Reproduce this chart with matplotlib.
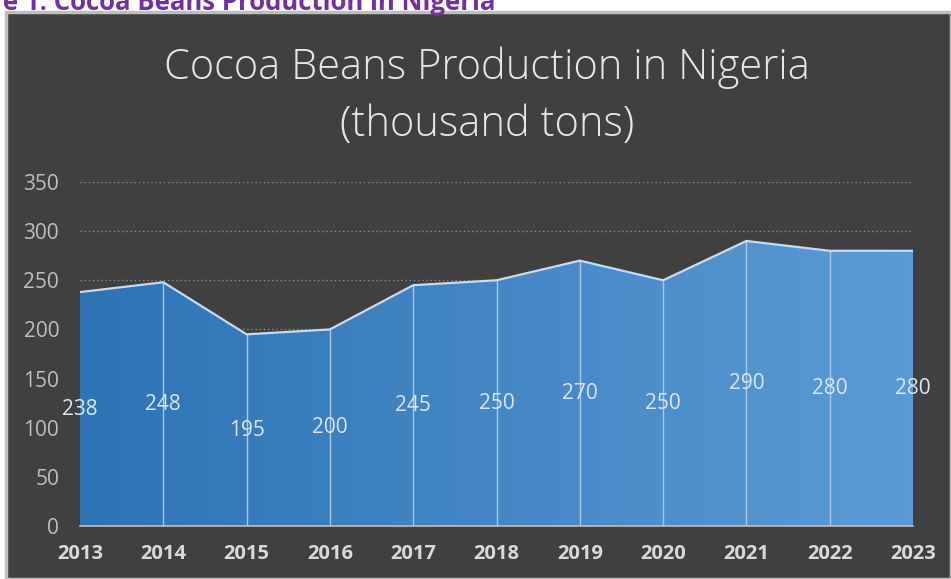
import matplotlib.pyplot as plt
import numpy as np
from matplotlib.colors import LinearSegmentedColormap
from matplotlib.patches import Rectangle

years = ['2013', '2014', '2015', '2016', '2017', '2018', '2019', '2020', '2021', '2022', '2023']
production = [238, 248, 195, 200, 245, 250, 270, 250, 290, 280, 280]
yticks = [0, 50, 100, 150, 200, 250, 300, 350]

W, H = 951, 579
fig = plt.figure(figsize=(W / 100, H / 100), dpi=100)
fig.patch.set_facecolor('white')

# dark panel with light border
panel = Rectangle((6 / W, 0), 1 - 6 / W, (H - 12) / H, transform=fig.transFigure,
                  facecolor='#404040', edgecolor='#bfbfbf', linewidth=2.5, zorder=0)
fig.patches.append(panel)

# caption above the panel, partly cut off
fig.text(-62 / W, (H - 10) / H, 'Figure 1: Cocoa Beans Production in Nigeria',
         color='#7030a0', fontsize=18.5, fontweight='bold', family='Open Sans',
         ha='left', va='baseline')

fig.text(487 / W, (H - 68) / H, 'Cocoa Beans Production in Nigeria',
         color='#e6e6e6', fontsize=30, family='Open Sans', fontweight='light',
         ha='center', va='center')
fig.text(487 / W, (H - 125) / H, '(thousand tons)',
         color='#e6e6e6', fontsize=30, family='Open Sans', fontweight='light',
         ha='center', va='center')

ax = fig.add_axes([80 / W, 53 / H, (913 - 80) / W, (526 - 182) / H])
ax.set_zorder(2)
ax.set_facecolor('none')
x = np.arange(len(years))
ax.set_xlim(0, len(years) - 1)
ax.set_ylim(0, 350)

# dotted gridlines
for t in yticks[1:]:
    ax.axhline(t, color='#8c8c8c', linestyle=(0, (1, 2)), linewidth=1, zorder=1)

# horizontal gradient clipped to the area
cmap = LinearSegmentedColormap.from_list('blues', ['#2e73b4', '#5b9bd5'])
grad = np.linspace(0, 1, 256).reshape(1, -1)
poly = ax.fill_between(x, production, 0, color='none', zorder=2)
img = ax.imshow(grad, cmap=cmap, aspect='auto', extent=[0, len(years) - 1, 0, 350],
                origin='lower', zorder=2)
img.set_clip_path(poly.get_paths()[0], transform=ax.transData)
ax.plot(x, production, color='#c5dcf0', linewidth=1.6, zorder=4)
ax.vlines(x[1:-1], 0, production[1:-1], color='#a9c8e8', linewidth=1, zorder=3)

for xi, v in zip(x, production):
    ax.text(xi, v / 2, str(v), color='#dce6f2', fontsize=15, ha='center', va='center',
            family='Open Sans', zorder=5)

for s in ['top', 'right', 'left']:
    ax.spines[s].set_visible(False)
ax.spines['bottom'].set_color('#bfbfbf')
ax.spines['bottom'].set_linewidth(1.2)
ax.spines['bottom'].set_zorder(5)

ax.set_yticks(yticks)
ax.set_yticklabels([str(t) for t in yticks], color='#bfbfbf', fontsize=15, family='Open Sans')
ax.set_xticks(x)
ax.set_xticklabels(years, color='#d9d9d9', fontsize=14.5, fontweight='bold', family='Open Sans')
ax.tick_params(axis='both', length=0)
ax.tick_params(axis='y', pad=15)
ax.tick_params(axis='x', pad=13)

fig.savefig('out.png', dpi=100)
